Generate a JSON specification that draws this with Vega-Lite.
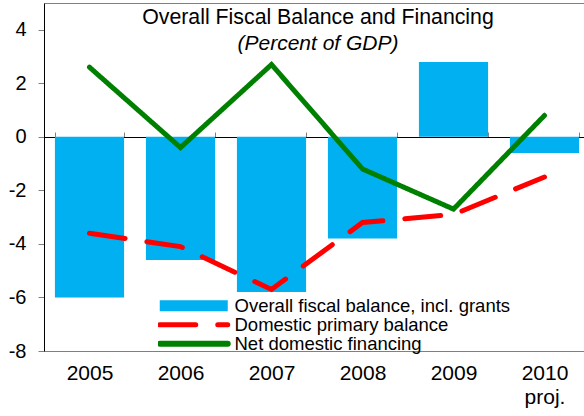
{
  "$schema": "https://vega.github.io/schema/vega-lite/v6.json",
  "width": 540,
  "height": 348,
  "autosize": "none",
  "padding": {"left": 44, "top": 3, "right": 0, "bottom": 65},
  "background": "white",
  "title": {
    "text": "Overall Fiscal Balance and Financing",
    "subtitle": "(Percent of GDP)",
    "font": "Liberation Sans",
    "fontSize": 21.3,
    "fontWeight": "normal",
    "color": "black",
    "subtitleFont": "Liberation Sans",
    "subtitleFontSize": 21,
    "subtitleFontStyle": "italic",
    "subtitleColor": "black",
    "subtitlePadding": 5,
    "anchor": "middle",
    "frame": "group",
    "offset": -51,
    "dx": 4
  },
  "config": {
    "view": {"stroke": "#808080", "strokeWidth": 1},
    "font": "Liberation Sans"
  },
  "data": {
    "values": [
      {"year": "2005", "series": "Overall fiscal balance, incl. grants", "value": -6.0},
      {"year": "2006", "series": "Overall fiscal balance, incl. grants", "value": -4.6},
      {"year": "2007", "series": "Overall fiscal balance, incl. grants", "value": -5.8},
      {"year": "2008", "series": "Overall fiscal balance, incl. grants", "value": -3.8},
      {"year": "2009", "series": "Overall fiscal balance, incl. grants", "value": 2.8},
      {"year": "2010", "series": "Overall fiscal balance, incl. grants", "value": -0.6},
      {"year": "2005", "series": "Domestic primary balance", "value": -3.6},
      {"year": "2006", "series": "Domestic primary balance", "value": -4.1},
      {"year": "2007", "series": "Domestic primary balance", "value": -5.7},
      {"year": "2008", "series": "Domestic primary balance", "value": -3.2},
      {"year": "2009", "series": "Domestic primary balance", "value": -2.9},
      {"year": "2010", "series": "Domestic primary balance", "value": -1.5},
      {"year": "2005", "series": "Net domestic financing", "value": 2.6},
      {"year": "2006", "series": "Net domestic financing", "value": -0.4},
      {"year": "2007", "series": "Net domestic financing", "value": 2.7},
      {"year": "2008", "series": "Net domestic financing", "value": -1.2},
      {"year": "2009", "series": "Net domestic financing", "value": -2.7},
      {"year": "2010", "series": "Net domestic financing", "value": 0.8}
    ]
  },
  "encoding": {
    "x": {
      "field": "year",
      "type": "ordinal",
      "scale": {"range": [0, 546], "paddingInner": 0.24, "paddingOuter": 0.12},
      "axis": {
        "title": null,
        "orient": "bottom",
        "offset": -214,
        "domainColor": "black",
        "domainWidth": 1,
        "tickColor": "#808080",
        "tickSize": -5,
        "tickBand": "extent",
        "labelAngle": 0,
        "labelFont": "Liberation Sans",
        "labelFontSize": 21,
        "labelColor": "black",
        "labelPadding": 230,
        "labelLineHeight": 24,
        "labelExpr": "datum.value == '2010' ? ['2010', 'proj.'] : datum.value"
      }
    },
    "y": {
      "field": "value",
      "type": "quantitative",
      "scale": {"domain": [-8, 5], "nice": false},
      "axis": {
        "title": null,
        "values": [-8, -6, -4, -2, 0, 2, 4],
        "grid": false,
        "domainColor": "black",
        "tickColor": "#808080",
        "tickSize": 6,
        "labelPadding": 12,
        "labelFont": "Liberation Sans",
        "labelFontSize": 20,
        "labelColor": "black",
        "labelExpr": "replace(datum.label, '\u2212', '-')"
      }
    },
    "color": {
      "field": "series",
      "type": "nominal",
      "scale": {
        "domain": ["Overall fiscal balance, incl. grants", "Domestic primary balance", "Net domestic financing"],
        "range": ["#00B0F0", "#FF0000", "#008000"]
      },
      "legend": {
        "orient": "none",
        "legendX": 114,
        "legendY": 294,
        "title": null,
        "padding": 0,
        "symbolType": "M-1.5,0H12.1",
        "symbolSize": 100,
        "symbolStrokeWidth": 5,
        "labelFont": "Liberation Sans",
        "labelFontSize": 18.5,
        "labelColor": "black",
        "labelOffset": 58,
        "rowPadding": -1.2,
        "clipHeight": 17.5,
        "labelLimit": 400,
        "encode": {
          "symbols": {
            "update": {
              "stroke": {"signal": "scale('color', datum.value)"},
              "fill": {"value": "transparent"},
              "opacity": {"value": 1},
              "strokeWidth": {"signal": "datum.value == 'Overall fiscal balance, incl. grants' ? 11 : (datum.value == 'Net domestic financing' ? 6 : 5)"},
              "strokeDash": {"signal": "datum.value == 'Domestic primary balance' ? [36, 22] : [1, 0]"},
              "strokeCap": {"signal": "datum.value == 'Overall fiscal balance, incl. grants' ? 'butt' : 'round'"}
            }
          }
        }
      }
    }
  },
  "layer": [
    {
      "transform": [{"filter": "datum.series == 'Overall fiscal balance, incl. grants'"}],
      "mark": {"type": "bar"}
    },
    {
      "transform": [{"filter": "datum.series != 'Overall fiscal balance, incl. grants'"}],
      "mark": {"type": "line", "strokeWidth": 5, "strokeCap": "round"},
      "encoding": {
        "strokeDash": {
          "field": "series",
          "type": "nominal",
          "scale": {"domain": ["Domestic primary balance", "Net domestic financing"], "range": [[36, 22], [1, 0]]},
          "legend": null
        }
      }
    }
  ]
}
